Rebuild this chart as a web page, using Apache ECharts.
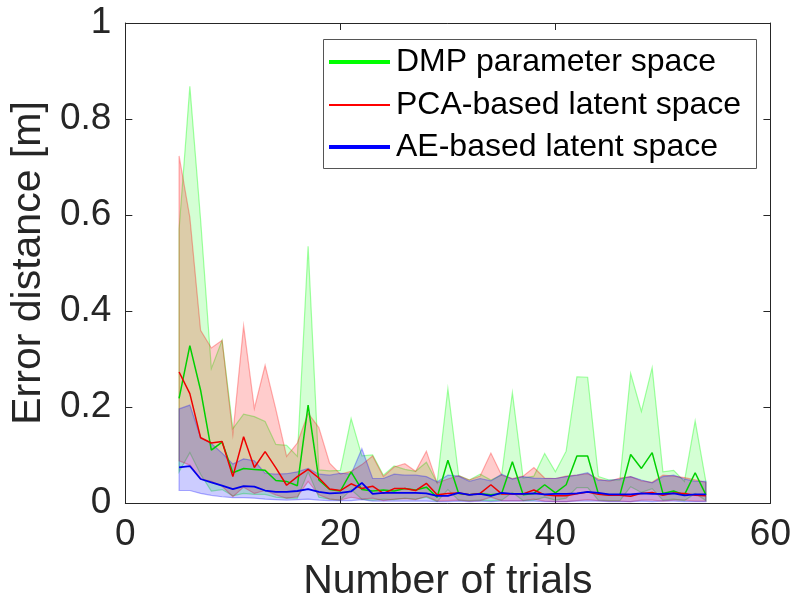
<!DOCTYPE html>
<html>
<head>
<meta charset="utf-8">
<script src="https://cdn.jsdelivr.net/npm/echarts@6/dist/echarts.min.js"></script>
<style>
  html, body { margin: 0; padding: 0; background: #fff; }
  #chart { width: 794px; height: 610px; }
</style>
</head>
<body>
<div id="chart"></div>
<script>
// Trial numbers (x axis)
const trials = [5,6,7,8,9,10,11,12,13,14,15,16,17,18,19,20,21,22,23,24,25,26,27,28,29,30,
  31,32,33,34,35,36,37,38,39,40,41,42,43,44,45,46,47,48,49,50,51,52,53,54];

// DMP parameter space: mean error and its band
const dmpMean = [0.218,0.328,0.235,0.110,0.127,0.063,0.072,0.070,0.068,0.047,0.045,0.036,0.204,0.048,0.028,0.025,
  0.065,0.028,0.025,0.027,0.025,0.030,0.027,0.033,0.012,0.089,0.020,0.017,0.020,0.017,0.020,0.086,0.017,0.020,
  0.038,0.021,0.038,0.098,0.098,0.019,0.017,0.017,0.101,0.072,0.105,0.020,0.025,0.017,0.063,0.017];
const dmpUpper = [0.570,0.868,0.590,0.280,0.339,0.155,0.185,0.180,0.170,0.122,0.120,0.097,0.535,0.069,0.067,0.068,
  0.176,0.098,0.100,0.058,0.077,0.070,0.066,0.085,0.042,0.238,0.057,0.048,0.060,0.048,0.058,0.230,0.052,0.056,
  0.103,0.065,0.108,0.263,0.262,0.055,0.048,0.048,0.270,0.191,0.282,0.065,0.068,0.045,0.171,0.044];
const dmpLower = [0.065,0.105,0.060,0.025,0.028,0.015,0.020,0.018,0.018,0.012,0.010,0.010,0.065,0.012,0.008,0.006,
  0.028,0.008,0.006,0.008,0.007,0.010,0.008,0.012,0.003,0.028,0.006,0.005,0.006,0.005,0.006,0.022,0.005,0.006,
  0.012,0.006,0.010,0.032,0.032,0.006,0.005,0.005,0.034,0.022,0.030,0.006,0.008,0.005,0.020,0.005];

// PCA-based latent space
const pcaMean = [0.273,0.228,0.136,0.125,0.128,0.055,0.138,0.074,0.107,0.073,0.037,0.055,0.070,0.052,0.029,0.026,
  0.040,0.030,0.035,0.020,0.030,0.030,0.026,0.041,0.017,0.020,0.021,0.017,0.020,0.038,0.019,0.019,0.019,0.027,
  0.017,0.015,0.015,0.019,0.023,0.018,0.016,0.016,0.014,0.020,0.022,0.016,0.021,0.020,0.016,0.015];
const pcaUpper = [0.723,0.595,0.360,0.323,0.339,0.143,0.369,0.197,0.287,0.195,0.097,0.125,0.187,0.157,0.083,0.060,
  0.066,0.080,0.098,0.055,0.075,0.082,0.066,0.108,0.042,0.050,0.057,0.048,0.056,0.104,0.058,0.051,0.056,0.074,
  0.052,0.051,0.056,0.058,0.061,0.050,0.045,0.052,0.055,0.046,0.043,0.058,0.056,0.053,0.048,0.043];
const pcaLower = [0.088,0.079,0.050,0.045,0.035,0.013,0.033,0.020,0.026,0.017,0.010,0.013,0.045,0.017,0.008,0.006,
  0.012,0.008,0.010,0.005,0.008,0.009,0.007,0.014,0.004,0.005,0.006,0.004,0.005,0.012,0.005,0.005,0.005,0.008,
  0.004,0.003,0.003,0.005,0.007,0.005,0.004,0.004,0.003,0.006,0.006,0.004,0.006,0.006,0.004,0.004];

// AE-based latent space
const aeMean = [0.074,0.077,0.050,0.043,0.036,0.029,0.035,0.034,0.026,0.023,0.023,0.025,0.029,0.023,0.020,0.021,
  0.024,0.042,0.019,0.021,0.021,0.021,0.021,0.020,0.015,0.015,0.021,0.017,0.019,0.015,0.021,0.019,0.019,0.020,
  0.018,0.019,0.019,0.020,0.023,0.021,0.018,0.018,0.018,0.020,0.019,0.019,0.020,0.016,0.018,0.018];
const aeUpper = [0.196,0.204,0.137,0.124,0.104,0.081,0.092,0.088,0.062,0.060,0.061,0.065,0.072,0.060,0.058,0.062,
  0.060,0.113,0.051,0.051,0.060,0.058,0.058,0.055,0.044,0.058,0.056,0.045,0.051,0.046,0.060,0.050,0.055,0.052,
  0.051,0.051,0.055,0.058,0.063,0.047,0.047,0.050,0.055,0.048,0.042,0.055,0.058,0.050,0.045,0.045];
const aeLower = [0.026,0.026,0.020,0.016,0.013,0.011,0.011,0.010,0.008,0.007,0.006,0.007,0.008,0.006,0.005,0.005,
  0.005,0.007,0.004,0.004,0.004,0.004,0.004,0.004,0.003,0.003,0.004,0.003,0.004,0.003,0.004,0.004,0.004,0.004,
  0.003,0.003,0.003,0.004,0.004,0.004,0.003,0.003,0.003,0.004,0.003,0.004,0.004,0.003,0.003,0.003];

// Axis ticks
const xTicks = { min: 0, max: 60, step: 20 };
const yTicks = { min: 0, max: 1, step: 0.2 };

const names = ['DMP parameter space', 'PCA-based latent space', 'AE-based latent space'];

const FONT = 'Liberation Sans, Arial, Helvetica, sans-serif';
const AXIS_COLOR = '#262626';

// Shaded min–max band drawn as a single polygon through the axis scales
function band(lo, hi, fill, edge) {
  return {
    type: 'custom',
    silent: true,
    clip: true,
    z: 1,
    data: trials.map((t, i) => [t, lo[i], hi[i]]),
    encode: { x: 0, y: [1, 2] },
    renderItem: function (params, api) {
      if (params.dataIndex !== 0) return;
      const pts = [];
      for (let i = 0; i < trials.length; i++) pts.push(api.coord([trials[i], hi[i]]));
      for (let i = trials.length - 1; i >= 0; i--) pts.push(api.coord([trials[i], lo[i]]));
      return {
        type: 'polygon',
        shape: { points: pts },
        style: { fill: fill, stroke: edge, lineWidth: 1.2 }
      };
    }
  };
}

function meanLine(name, values, color, width) {
  return {
    type: 'line',
    name: name,
    z: 3,
    symbol: 'none',
    showSymbol: false,
    data: trials.map((t, i) => [t, values[i]]),
    itemStyle: { color: color },
    lineStyle: { color: color, width: width }
  };
}

function legendRow(name, top, color, thickness) {
  return {
    data: [name],
    left: 329,
    top: top,
    orient: 'horizontal',
    padding: 0,
    icon: 'rect',
    itemWidth: 61,
    itemHeight: thickness,
    itemGap: 0,
    selectedMode: false,
    itemStyle: { color: color },
    textStyle: { fontFamily: FONT, fontSize: 32, color: '#000', padding: [0, 0, 0, 1] }
  };
}

const chart = echarts.init(document.getElementById('chart'), null, { renderer: 'canvas' });

const tickCommon = { show: true, inside: true, length: 7, lineStyle: { color: AXIS_COLOR, width: 1 } };
const lineCommon = { show: true, onZero: false, lineStyle: { color: AXIS_COLOR, width: 1 } };

chart.setOption({
  animation: false,
  backgroundColor: '#fff',
  grid: { left: 122, right: 22, top: 23, bottom: 107, containLabel: false },
  xAxis: [
    {
      type: 'value', position: 'bottom',
      min: xTicks.min, max: xTicks.max, interval: xTicks.step,
      axisLine: lineCommon, axisTick: tickCommon, splitLine: { show: false },
      axisLabel: { fontFamily: FONT, fontSize: 37, color: AXIS_COLOR, margin: 13 },
      name: 'Number of trials', nameLocation: 'middle', nameGap: 58,
      nameTextStyle: { fontFamily: FONT, fontSize: 41, color: AXIS_COLOR }
    },
    {
      type: 'value', position: 'top',
      min: xTicks.min, max: xTicks.max, interval: xTicks.step,
      axisLine: lineCommon, axisTick: tickCommon, splitLine: { show: false },
      axisLabel: { show: false }
    }
  ],
  yAxis: [
    {
      type: 'value', position: 'left',
      min: yTicks.min, max: yTicks.max, interval: yTicks.step,
      axisLine: lineCommon, axisTick: tickCommon, splitLine: { show: false },
      axisLabel: { fontFamily: FONT, fontSize: 37, color: AXIS_COLOR, margin: 14 },
      name: 'Error distance [m]', nameLocation: 'middle', nameGap: 74,
      nameTextStyle: { fontFamily: FONT, fontSize: 41, color: AXIS_COLOR }
    },
    {
      type: 'value', position: 'right',
      min: yTicks.min, max: yTicks.max, interval: yTicks.step,
      axisLine: lineCommon, axisTick: tickCommon, splitLine: { show: false },
      axisLabel: { show: false }
    }
  ],
  graphic: [
    {
      type: 'rect', z: 3,
      shape: { x: 323.5, y: 39.5, width: 433, height: 129 },
      style: { fill: '#fff', stroke: '#555', lineWidth: 1 }
    }
  ],
  legend: [
    legendRow(names[0], 46, '#00ff00', 4),
    legendRow(names[1], 89, '#ff0000', 2),
    legendRow(names[2], 131, '#0000ff', 4)
  ],
  series: [
    band(dmpLower, dmpUpper, 'rgba(0,255,0,0.17)', 'rgba(0,255,0,0.35)'),
    band(pcaLower, pcaUpper, 'rgba(255,0,0,0.2)', 'rgba(255,0,0,0.3)'),
    band(aeLower, aeUpper, 'rgba(0,0,255,0.2)', 'rgba(0,0,255,0.3)'),
    meanLine(names[0], dmpMean, '#00d000', 1.5),
    meanLine(names[1], pcaMean, '#ee0000', 1.5),
    meanLine(names[2], aeMean, '#0000ee', 1.8)
  ]
});
</script>
</body>
</html>
